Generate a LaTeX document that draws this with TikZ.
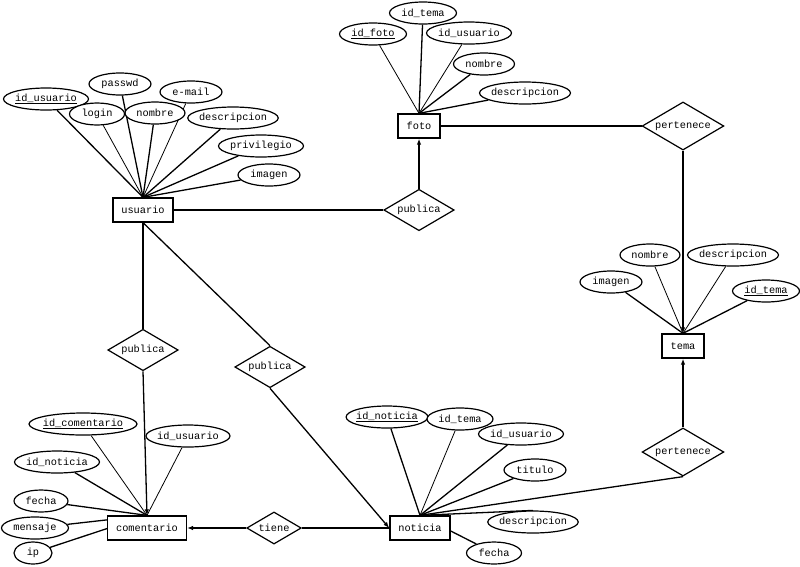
\documentclass[tikz,border=0pt]{standalone}
\usepackage{fontspec}
\setmonofont{Liberation Mono}
\usetikzlibrary{shapes.geometric,arrows.meta,backgrounds}

\begin{document}
\begin{tikzpicture}[x=1pt, y=-1pt, font=\ttfamily\fontsize{10.3}{12}\selectfont, >={Latex[length=6pt,width=4.5pt]},
      ent/.style={draw, line width=1.3pt, fill=white, inner xsep=8.5pt, minimum height=24pt},
      attr/.style={draw, ellipse, line width=1.2pt, fill=white, inner xsep=-2pt, inner ysep=0pt, minimum height=22pt, minimum width=#1},
      attr/.default=62pt,
      rel/.style={draw, diamond, aspect=1.7, line width=1.2pt, fill=white, inner sep=2pt},
      link/.style={line width=1.3pt},
      thinlink/.style={line width=0.8pt}]
    \useasboundingbox (0,0) rectangle (800,566);
    % ---- entities
    \node[ent] (usuario) at (143,210) {usuario};
    \node[ent] (foto) at (419,126) {foto};
    \node[ent] (tema) at (683,346) {tema};
    \node[ent] (coment) at (147,528) {comentario};
    \node[ent] (noticia) at (420,528) {noticia};
    % ---- relations
    \node[rel] (pubfoto) at (419,210) {publica};
    \node[rel] (perfoto) at (683,126) {pertenece};
    \node[rel] (pubcom) at (143,350) {publica};
    \node[rel] (pubnot) at (270,367) {publica};
    \node[rel] (tiene) at (274,528) {tiene};
    \node[rel] (pernot) at (683,452) {pertenece};
    % ---- usuario attributes
    \node[attr=85pt] (uId) at (46,99) {\underline{id\_usuario}};
    \node[attr] (uPass) at (120,84) {passwd};
    \node[attr] (uMail) at (191,92) {e-mail};
    \node[attr=55pt] (uLogin) at (97,114) {login};
    \node[attr=60pt] (uNombre) at (155,113) {nombre};
    \node[attr=90pt] (uDesc) at (233,118) {descripcion};
    \node[attr=85pt] (uPriv) at (261,146) {privilegio};
    \node[attr] (uImg) at (269,175) {imagen};
    % ---- foto attributes
    \node[attr=67pt] (fId) at (373,34) {\underline{id\_foto}};
    \node[attr=67pt] (fTema) at (423,13) {id\_tema};
    \node[attr=85pt] (fUsu) at (469,33) {id\_usuario};
    \node[attr=61pt] (fNombre) at (484,64) {nombre};
    \node[attr=91pt] (fDesc) at (525,93) {descripcion};
    % ---- tema attributes
    \node[attr=60pt] (tNombre) at (650,255) {nombre};
    \node[attr=91pt] (tDesc) at (733,255) {descripcion};
    \node[attr] (tImg) at (611,282) {imagen};
    \node[attr=67pt] (tId) at (766,291) {\underline{id\_tema}};
    % ---- comentario attributes
    \node[attr=102pt] (cId) at (83,424) {\underline{id\_comentario}};
    \node[attr=84pt] (cUsu) at (188,436) {id\_usuario};
    \node[attr=85pt] (cNot) at (57,462) {id\_noticia};
    \node[attr=54pt] (cFecha) at (41,501) {fecha};
    \node[attr=67pt] (cMsg) at (35,528) {mensaje};
    \node[attr=38pt] (cIp) at (33,553) {ip};
    % ---- noticia attributes
    \node[attr=79pt] (nId) at (387,417) {\underline{id\_noticia}};
    \node[attr=66pt] (nTema) at (460,419) {id\_tema};
    \node[attr=85pt] (nUsu) at (521,434) {id\_usuario};
    \node[attr] (nTitulo) at (535,470) {titulo};
    \node[attr=90pt] (nDesc) at (533,522) {descripcion};
    \node[attr=55pt] (nFecha) at (494,553) {fecha};
    % ---- connectors
    \begin{scope}[on background layer]
      \foreach \a in {uId,uPass,uNombre,uDesc,uPriv,uImg} { \draw[link] (usuario.north) -- (\a); }
      \foreach \a in {uLogin,uMail} { \draw[thinlink] (usuario.north) -- (\a); }
      \foreach \a in {fTema,fNombre,fDesc} { \draw[link] (foto.north) -- (\a); }
      \foreach \a in {fId,fUsu} { \draw[thinlink] (foto.north) -- (\a); }
      \foreach \a in {tImg,tId} { \draw[link] (tema.north) -- (\a); }
      \foreach \a in {tNombre,tDesc} { \draw[thinlink] (tema.north) -- (\a); }
      \foreach \a in {cNot,cFecha,cMsg,cIp} { \draw[link] (coment.north) -- (\a); }
      \foreach \a in {cId,cUsu} { \draw[thinlink] (coment.north) -- (\a); }
      \foreach \a in {nId,nUsu,nTitulo,nFecha} { \draw[link] (noticia.north) -- (\a); }
      \draw[link] (noticia.north) -- (nDesc.north);
      \draw[thinlink] (noticia.north) -- (nTema);
      % relations
      \draw[link] (usuario.east) -- (pubfoto.west);
      \draw[link, ->] (pubfoto.north) -- (foto.south);
      \draw[link] (foto.east) -- (perfoto.west);
      \draw[link, ->] (perfoto.south) -- (tema.north);
      \draw[link] (usuario.south) -- (pubcom.north);
      \draw[link, ->] (pubcom.south) -- (coment.north);
      \draw[link] (usuario.south) -- (pubnot.north);
      \draw[link, ->] (pubnot.south) -- (noticia.west);
      \draw[link] (noticia.west) -- (tiene.east);
      \draw[link, ->] (tiene.west) -- (coment.east);
      \draw[link] (noticia.north) -- (pernot.south);
      \draw[link, ->] (pernot.north) -- (tema.south);
    \end{scope}
  \end{tikzpicture}
\end{document}
